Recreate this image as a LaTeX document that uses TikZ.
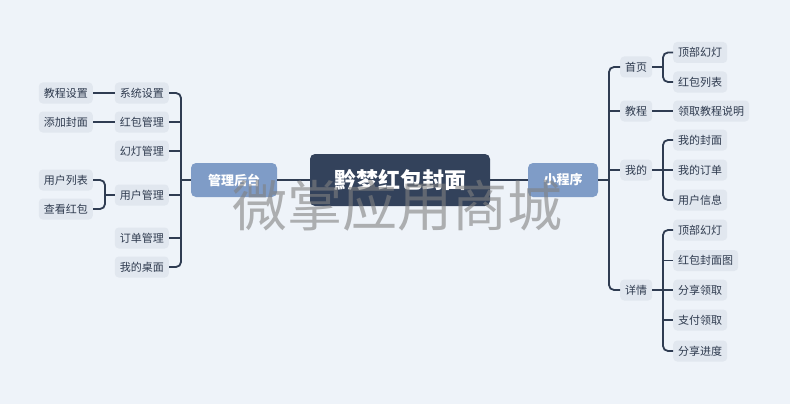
\documentclass[tikz,border=0pt]{standalone}
\usepackage{fontspec}
\setmainfont{Noto Sans CJK SC}
\usepackage{tikz}

\definecolor{bgblue}{HTML}{EEF3F9}
\definecolor{leafgray}{HTML}{E1E7EF}
\definecolor{inkdark}{HTML}{2E3A4E}
\definecolor{branchblue}{HTML}{7F9CC7}
\definecolor{rootdark}{HTML}{33425B}
\definecolor{linedark}{HTML}{2F3C52}

\tikzset{
  leaf/.style={fill=leafgray, text=inkdark, rounded corners=4pt, minimum height=21pt,
    inner xsep=5pt, inner ysep=0pt, font=\fontsize{11}{13}\selectfont},
  branch/.style={fill=branchblue, text=white, rounded corners=5pt, minimum height=34pt,
    font=\fontsize{13}{15}\selectfont\bfseries},
  root/.style={fill=rootdark, text=white, rounded corners=5pt, minimum width=180pt,
    minimum height=52pt, font=\fontsize{22}{25}\selectfont\bfseries},
  link/.style={draw=linedark, line width=1.8pt, rounded corners=5pt},
  mark text/.style={text=gray, text opacity=0.6, font=\fontsize{55}{60}\selectfont}
}

\begin{document}
\begin{tikzpicture}[x=1pt,y=-1pt]
  \fill[bgblue] (0,0) rectangle (790,404);
  \useasboundingbox (0,0) rectangle (790,404);

  % centre and the two branches
  \node[root] (title) at (400,180) {黔梦红包封面};
  \node[branch, minimum width=86pt] (admin) at (234,180) {管理后台};
  \node[branch, minimum width=70pt] (app) at (563,180) {小程序};
  \draw[link] (title.west) -- (admin.east);
  \draw[link] (title.east) -- (app.west);

  % left: management side
  \node[leaf, anchor=east] (sys)   at (169,93)  {系统设置};
  \node[leaf, anchor=east] (red)   at (169,122) {红包管理};
  \node[leaf, anchor=east] (slide) at (169,151) {幻灯管理};
  \node[leaf, anchor=east] (user)  at (169,195) {用户管理};
  \node[leaf, anchor=east] (order) at (169,238) {订单管理};
  \node[leaf, anchor=east] (desk)  at (169,267) {我的桌面};
  \coordinate (lb) at (181,180);
  \draw[link] (admin.west) -- (lb);
  \draw[link] (sys.east) -| (lb);
  \draw[link] (desk.east) -| (lb);
  \foreach \n in {red,slide,user,order}
    \draw[link] (\n.east) -- (\n.east -| lb);

  \node[leaf, anchor=east] (tutset) at (93,93)  {教程设置};
  \node[leaf, anchor=east] (cover)  at (93,122) {添加封面};
  \node[leaf, anchor=east] (ulist)  at (93,180) {用户列表};
  \node[leaf, anchor=east] (uview)  at (93,209) {查看红包};
  \draw[link] (tutset.east) -- (sys.west);
  \draw[link] (cover.east) -- (red.west);
  \coordinate (ub) at (105,195);
  \draw[link] (ulist.east) -| (ub);
  \draw[link] (uview.east) -| (ub);
  \draw[link] (ub) -- (user.west);

  % right: mini program side
  \node[leaf, anchor=west] (home)   at (620,67)  {首页};
  \node[leaf, anchor=west] (course) at (620,111) {教程};
  \node[leaf, anchor=west] (mine)   at (620,170) {我的};
  \node[leaf, anchor=west] (detail) at (620,290) {详情};
  \coordinate (rb) at (609,180);
  \draw[link] (app.east) -- (rb);
  \draw[link] (rb) |- (home.west);
  \draw[link] (rb) |- (detail.west);
  \draw[link] (course.west -| rb) -- (course.west);
  \draw[link] (mine.west -| rb) -- (mine.west);

  \node[leaf, anchor=west] (htop)  at (673,52.5) {顶部幻灯};
  \node[leaf, anchor=west] (hlist) at (673,82)   {红包列表};
  \coordinate (hb) at (663,67);
  \draw[link] (home.east) -- (hb);
  \draw[link] (hb) |- (htop.west);
  \draw[link] (hb) |- (hlist.west);

  \node[leaf, anchor=west] (cguide) at (673,111) {领取教程说明};
  \draw[link] (course.east) -- (cguide.west);

  \node[leaf, anchor=west] (mcover) at (673,140) {我的封面};
  \node[leaf, anchor=west] (morder) at (673,170) {我的订单};
  \node[leaf, anchor=west] (minfo)  at (673,200) {用户信息};
  \coordinate (mb) at (663,170);
  \draw[link] (mine.east) -- (morder.west);
  \draw[link] (mb) |- (mcover.west);
  \draw[link] (mb) |- (minfo.west);

  \node[leaf, anchor=west] (dtop)   at (673,230)   {顶部幻灯};
  \node[leaf, anchor=west] (dcover) at (673,260.5) {红包封面图};
  \node[leaf, anchor=west] (dshare) at (673,290)   {分享领取};
  \node[leaf, anchor=west] (dpay)   at (673,320)   {支付领取};
  \node[leaf, anchor=west] (dprog)  at (673,351)   {分享进度};
  \coordinate (db) at (663,290);
  \draw[link] (detail.east) -- (dshare.west);
  \draw[link] (db) |- (dtop.west);
  \draw[link] (db) |- (dprog.west);
  \draw[link] (dcover.west -| db) -- (dcover.west);
  \draw[link] (dpay.west -| db) -- (dpay.west);

  % watermark
  \node[mark text] (wmark) at (397,206) {微掌应用商城};
\end{tikzpicture}
\end{document}
